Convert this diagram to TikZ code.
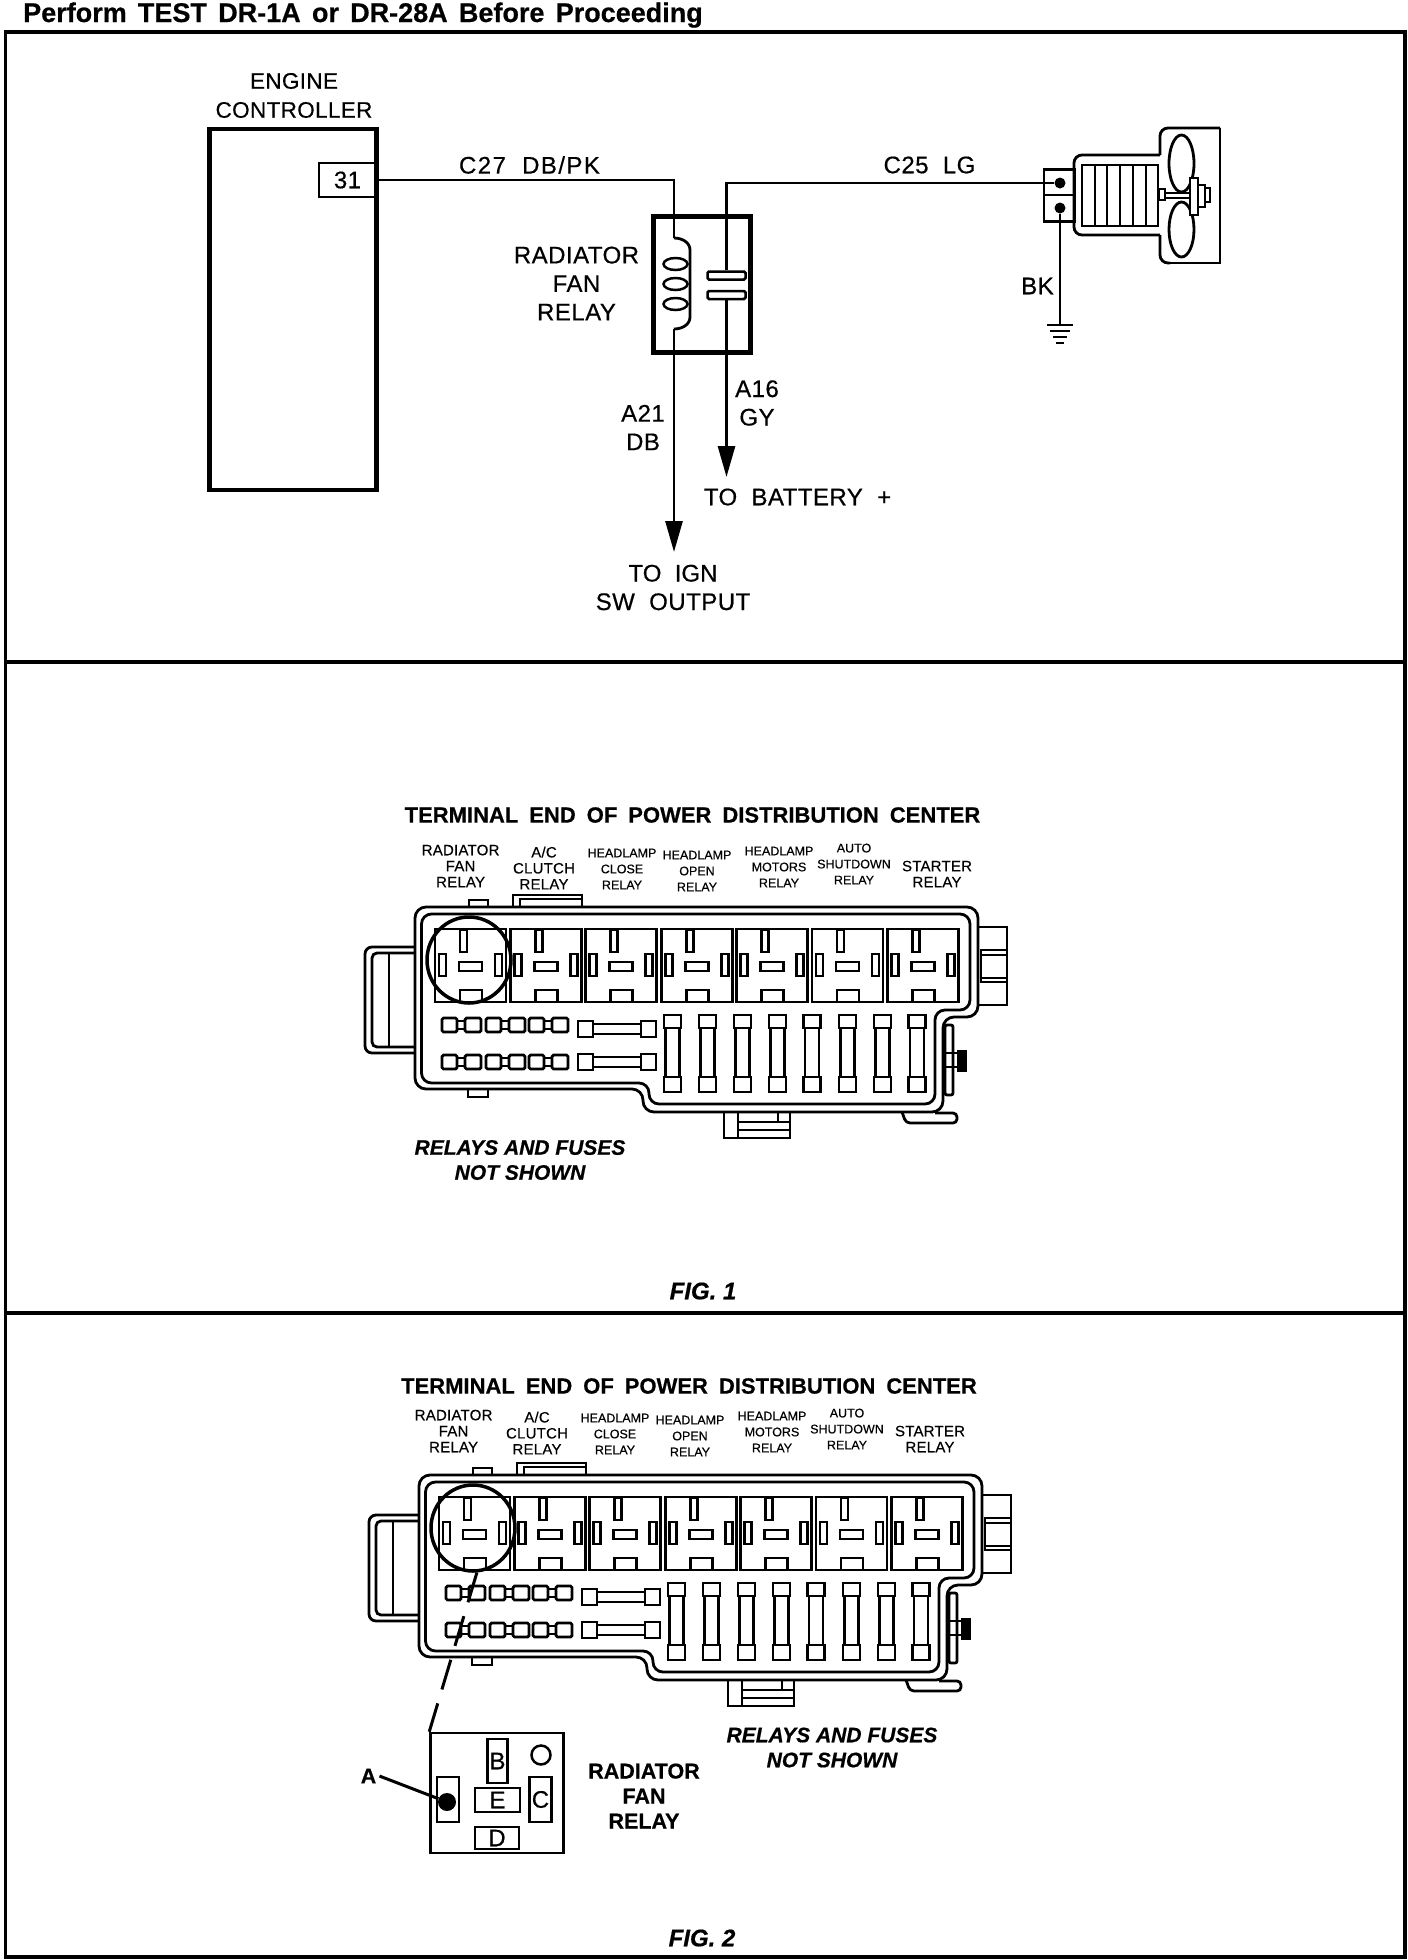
\documentclass[tikz,border=0pt]{standalone}
\usepackage{fontspec}
\usepackage{tikz}
\usetikzlibrary{positioning, arrows.meta, shapes.geometric}
\setmainfont[FakeBold=0.4,BoldFeatures={FakeBold=0.5},BoldItalicFeatures={FakeBold=0.6}]{Liberation Sans}
\newfontfamily\wirefont[LetterSpace=2,WordSpace=2,FakeBold=0.5]{Liberation Sans}
\newfontfamily\titlefont[WordSpace=1.8,BoldFeatures={FakeBold=0.5}]{Liberation Sans}
\newfontfamily\headfont[WordSpace=1.5,BoldFeatures={FakeBold=0.6}]{Liberation Sans}
\newfontfamily\relayfont[LetterSpace=1.5,FakeBold=0.4]{Liberation Sans}

\tikzstyle{wire} = [line width=2.8pt]
\tikzstyle{wirearrow} = [wire, -{Triangle[length=31pt,width=17pt]}]
\tikzstyle{pdcline} = [line width=2.8pt]
\tikzstyle{framerule} = [line width=3.6pt]
\tikzstyle{wirelabel} = [align=center, inner sep=0pt, font=\wirefont\fontsize{24}{28.5}\selectfont]
\tikzstyle{ecmlabel} = [align=center, inner sep=0pt, font=\relayfont\fontsize{22.5}{29}\selectfont]
\tikzstyle{ecubox} = [rectangle, draw=black, line width=4.5pt, inner sep=0pt, minimum width=167pt, minimum height=361pt]
\tikzstyle{pinbox} = [rectangle, draw=black, line width=2.5pt, inner sep=0pt]
\tikzstyle{relaybox} = [rectangle, draw=black, line width=5pt, inner sep=0pt, minimum width=97pt, minimum height=136pt]
\tikzstyle{plate} = [rectangle, rounded corners=1.5pt, draw=black, line width=2.5pt, inner sep=0pt, minimum width=38pt, minimum height=8pt]
\tikzstyle{termdot} = [circle, fill=black, inner sep=0pt, minimum size=11pt]
\tikzstyle{relaycircle} = [ellipse, draw=black, line width=3.5pt, inner sep=0pt, minimum width=84pt, minimum height=86pt]
\tikzstyle{relaylabel} = [align=center, inner sep=0pt, font=\relayfont\fontsize{15}{16}\selectfont]
\tikzstyle{headlabel} = [align=center, inner sep=0pt, font=\fontsize{12.5}{16}\selectfont]
\tikzstyle{pdctitle} = [inner sep=0pt, font=\titlefont\bfseries\fontsize{22}{25}\selectfont]
\tikzstyle{notelabel} = [align=center, inner sep=0pt, font=\bfseries\itshape\fontsize{21}{25}\selectfont]
\tikzstyle{boldlabel} = [align=center, inner sep=0pt, font=\bfseries\fontsize{21.5}{25}\selectfont]
\tikzstyle{figlabel} = [inner sep=0pt, font=\bfseries\itshape\fontsize{24}{28}\selectfont]

% housing of the power distribution center, #1 is the prefix of its names
\newcommand{\pdchousing}[1]{
    \draw [pdcline, rounded corners=11pt] (415,907) -- (978,907) -- (978,1017) -- (943,1017) -- (943,1112) -- (643,1112) -- (643,1089) -- (415,1089) -- cycle;
    \draw [pdcline, rounded corners=10pt] (421.5,914) -- (970,914) -- (970,1010) -- (935,1010) -- (935,1104) -- (649,1104) -- (649,1083) -- (421.5,1083) -- cycle;
    % clip on the left
    \draw [pdcline, rounded corners=7pt] (415,947) -- (365,947) -- (365,1053) -- (415,1053);
    \draw [pdcline, rounded corners=5pt] (415,953) -- (372,953) -- (372,1047) -- (415,1047);
    \draw [pdcline] (389,953) -- (389,1047);
    % tabs
    \draw [pdcline] (469,907) -- (469,900) -- (488,900) -- (488,907);
    \draw [pdcline] (513,907) -- (513,895) -- (582,895) -- (582,907);
    \draw [pdcline] (520,907) -- (520,899) -- (582,899);
    \draw [pdcline] (468,1089) -- (468,1097) -- (488,1097) -- (488,1089);
    \draw [pdcline] (724,1112) -- (724,1138) -- (790,1138) -- (790,1112);
    \draw [pdcline] (738,1112) -- (738,1138);
    \draw [pdcline] (738,1122) -- (790,1122);
    \draw [pdcline] (738,1130) -- (790,1130);
    \draw [pdcline] (778,1112) -- (778,1122);
    \draw [pdcline, rounded corners=4pt] (902,1112) -- (906,1123) -- (957,1123) -- (957,1113) -- (935,1113);
    % connector on the right
    \draw [pdcline] (977,927) -- (1007,927) -- (1007,1005) -- (977,1005);
    \draw [pdcline] (1007,950) -- (981,950) -- (981,982) -- (1007,982);
    \draw [pdcline] (981,955) -- (1007,955);
    \draw [pdcline] (981,978) -- (1007,978);
    \draw [pdcline, rounded corners=2pt] (945,1025) rectangle (953,1095);
    \draw [pdcline] (945,1053) -- (957,1053);
    \draw [pdcline] (945,1067) -- (957,1067);
    \fill (957,1050) rectangle (967,1072);
    % relay sockets
    \foreach \rx in {435,510.4,585.8,661.2,736.6,812,887.4} {
        \draw [pdcline] (\rx,929) rectangle ++(71,73);
        \draw [pdcline] (\rx+25,930) rectangle ++(7,22);
        \draw [pdcline] (\rx+4,954) rectangle ++(7,22);
        \draw [pdcline] (\rx+60,954) rectangle ++(7,22);
        \draw [pdcline] (\rx+24,962) rectangle ++(23,9);
        \draw [pdcline] (\rx+25,990) rectangle ++(22,12);
    }
    % small fuses
    \foreach \fy in {1018,1055} {
        \foreach \fx in {442,486,529} {
            \draw [pdcline, rounded corners=1.5pt] (\fx,\fy) rectangle ++(15,14);
            \draw [pdcline] (\fx+15,\fy+3) rectangle ++(8,8);
            \draw [pdcline, rounded corners=1.5pt] (\fx+23,\fy) rectangle ++(16,14);
        }
    }
    % long fuses
    \foreach \fy in {1021,1054} {
        \draw [pdcline] (578,\fy) rectangle ++(15,16);
        \draw [pdcline] (593,\fy+3) rectangle ++(48,10);
        \draw [pdcline] (641,\fy) rectangle ++(15,16);
    }
    \foreach \fx in {664,699,734,769,803.5,839,874,908.5} {
        \draw [pdcline] (\fx,1015) rectangle ++(17,13);
        \draw [pdcline] (\fx+1.5,1028) rectangle ++(14,49);
        \draw [pdcline] (\fx,1077) rectangle ++(17,15);
    }
    \node (#1circle) [relaycircle] at (469,960) {};
}

% names printed above the sockets
\newcommand{\pdcnames}[1]{
    \node (#1radiator) [relaylabel] at (460.6,866) {RADIATOR\\FAN\\RELAY};
    \node (#1clutch) [relaylabel] at (544,868) {A/C\\CLUTCH\\RELAY};
    \node (#1close) [headlabel] at (622,869) {HEADLAMP\\CLOSE\\RELAY};
    \node (#1open) [headlabel] at (697,871) {HEADLAMP\\OPEN\\RELAY};
    \node (#1motors) [headlabel] at (779,867) {HEADLAMP\\MOTORS\\RELAY};
    \node (#1auto) [headlabel] at (854,864) {AUTO\\SHUTDOWN\\RELAY};
    \node (#1starter) [relaylabel] at (937,874) {STARTER\\RELAY};
}

\begin{document}
\begin{tikzpicture}[x=1pt, y=-1pt]
    \useasboundingbox (0,0) rectangle (1408,1960);

    % Frame
    \node (header) [anchor=base west, inner sep=0pt, font=\headfont\bfseries\fontsize{27}{30}\selectfont] at (23,22) {Perform TEST DR-1A or DR-28A Before Proceeding};
    \draw [framerule] (5.5,32) rectangle (1405,1957);
    \draw [framerule] (5.5,662) -- (1405,662);
    \draw [framerule] (5.5,1313) -- (1405,1313);

    % Nodes
    \node (ecm) [ecubox] at (293,309.5) {};
    \node (ecmname) [ecmlabel] at (294,95.5) {ENGINE\\CONTROLLER};
    \node (pin31) [pinbox, minimum width=57pt, minimum height=34pt, wirelabel] at (347.5,180) {31};
    \node (fanrelay) [relaybox] at (701.5,284) {};
    \node (fanrelayname) [wirelabel] at (576.5,283.5) {RADIATOR\\FAN\\RELAY};
    \node (plateA) [plate] at (726.5,275.5) {};
    \node (plateB) [plate] at (726.5,295) {};
    \node (wireC27) [wirelabel] at (529.5,165) {\addfontfeature{LetterSpace=6}C27 DB/PK};
    \node (wireC25) [wirelabel] at (929.5,165) {C25 LG};
    \node (wireA21) [wirelabel] at (643,427.5) {A21\\DB};
    \node (wireA16) [wirelabel] at (757,403) {A16\\GY};
    \node (battery) [wirelabel] at (797.5,497) {TO BATTERY +};
    \node (ignition) [wirelabel] at (673,587.5) {\addfontfeature{LetterSpace=0}TO IGN\\SW OUTPUT};
    \node (wireBK) [wirelabel] at (1037.5,286) {BK};
    \node (termbox) [pinbox, minimum width=31pt, minimum height=52pt] at (1059.5,195.5) {};
    \node (dotA) [termdot] at (1060,183) {};
    \node (dotB) [termdot] at (1060,208) {};
    \coordinate (coilin) at (674,238);
    \coordinate (coilout) at (674,329);
    \coordinate (ignend) at (674,552);
    \coordinate (batend) at (726.5,477);
    \coordinate (gnd) at (1060,325);

    % Coil
    \draw [wire] (coilin) to[out=0, in=90] (690,250) -- (690,317) to[out=-90, in=0] (coilout);
    \foreach \cy in {264,284,304} {
        \draw [wire, line width=2.5pt] (675.5,\cy) ellipse (12pt and 6pt);
    }

    % Motor
    \draw [pdcline] (1044,195) -- (1075,195);
    \draw [pdcline, rounded corners=8pt] (1160,155) -- (1074,155) -- (1074,235) -- (1160,235);
    \draw [pdcline] (1082,165) rectangle (1158,226);
    \foreach \mx in {1095,1107,1120,1133,1146} {
        \draw [pdcline] (\mx,165) -- (\mx,226);
    }
    \draw [pdcline, rounded corners=8pt] (1160,155) -- (1160,128) -- (1220,128);
    \draw [pdcline] (1220,128) -- (1220,263) -- (1170,263);
    \draw [pdcline, rounded corners=8pt] (1170,263) -- (1160,263) -- (1160,235);
    \draw [pdcline] (1181.5,163.5) ellipse (12.5pt and 28.5pt);
    \draw [pdcline] (1181.5,229.5) ellipse (12.5pt and 27.5pt);
    \draw [pdcline, fill=white] (1159,189) rectangle (1165,200);
    \draw [pdcline, fill=white] (1165,193) rectangle (1190,198);
    \draw [pdcline, fill=white] (1190,178) rectangle (1198,215);
    \draw [pdcline, fill=white] (1198,185) rectangle (1205,207);
    \draw [pdcline, fill=white] (1205,188) rectangle (1210,202);

    % Ground
    \draw [wire] (1047,325) -- (1073,325);
    \draw [wire] (1050,331) -- (1070,331);
    \draw [wire] (1053,337) -- (1067,337);
    \draw [wire] (1056,343) -- (1064,343);

    % Arrows
    \draw [wire] (pin31.east) -| (coilin);
    \draw [wire] (dotA) -| (plateA.north);
    \draw [wire] (dotB) -- (gnd);
    \draw [wirearrow] (coilout) -- (ignend);
    \draw [wirearrow] (plateB.south) -- (batend);

    % Fig. 1
    \pdchousing{one}
    \node (titleone) [pdctitle] at (692.5,815) {TERMINAL END OF POWER DISTRIBUTION CENTER};
    \pdcnames{one}
    \node (noteone) [notelabel] at (520,1160) {RELAYS AND FUSES\\NOT SHOWN};
    \node (figone) [figlabel] at (703,1291) {FIG. 1};

    % Fig. 2
    \begin{scope}[shift={(4,568)}]
        \pdchousing{two}
    \end{scope}
    \node (titletwo) [pdctitle] at (689,1386) {TERMINAL END OF POWER DISTRIBUTION CENTER};
    \begin{scope}[shift={(-7,565)}]
        \pdcnames{two}
    \end{scope}
    \node (notetwo) [notelabel] at (832,1747.5) {RELAYS AND FUSES\\NOT SHOWN};
    \node (figtwo) [figlabel] at (702,1938) {FIG. 2};

    \node (relayface) [pinbox, minimum width=133pt, minimum height=120pt] at (497,1793) {};
    \node (pinB) [pinbox, minimum width=20pt, minimum height=44pt, wirelabel] at (497.5,1761) {B};
    \node (pinE) [pinbox, minimum width=45pt, minimum height=24pt, wirelabel] at (497.5,1800) {E};
    \node (pinC) [pinbox, minimum width=22pt, minimum height=45pt, wirelabel] at (540.5,1799.5) {C};
    \node (pinD) [pinbox, minimum width=44pt, minimum height=22pt, wirelabel] at (497,1838) {D};
    \node (pinA) [pinbox, minimum width=22pt, minimum height=45pt] at (448,1799.5) {};
    \node (dotpin) [circle, fill=black, inner sep=0pt, minimum size=18pt] at (447,1802) {};
    \node (hole) [circle, draw=black, line width=2.5pt, inner sep=0pt, minimum size=19pt] at (541,1755) {};
    \node (labelA) [boldlabel] at (368.5,1776) {A};
    \node (facename) [boldlabel] at (644,1796) {RADIATOR\\FAN\\RELAY};

    % Arrows
    \draw [line width=3pt] (labelA.east) ++(3pt,0) -- (dotpin);
    \draw [line width=3pt, dash pattern=on 31pt off 14.5pt] (twocircle.275) -- (relayface.north west);

\end{tikzpicture}
\end{document}
